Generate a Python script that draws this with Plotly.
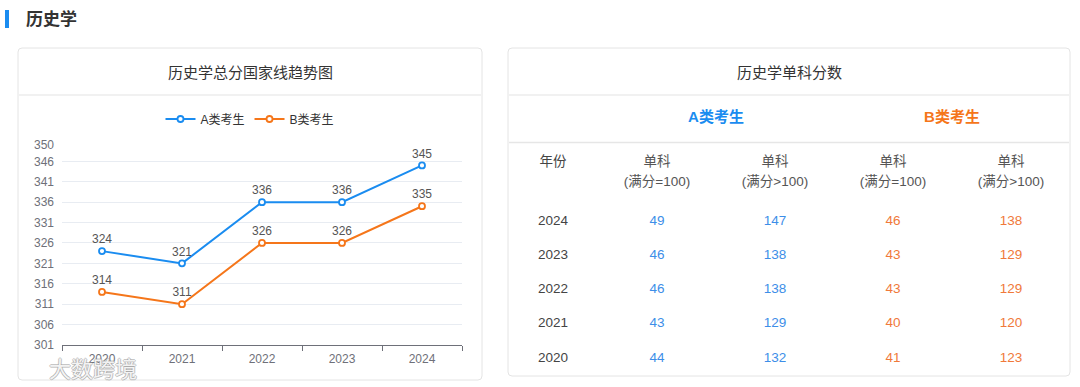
import plotly.graph_objects as go
import numpy as np

# ---------------- data ----------------
years = ["2020", "2021", "2022", "2023", "2024"]
total_a = [324, 321, 336, 336, 345]
total_b = [314, 311, 326, 326, 335]
y_ticks = [301, 306, 311, 316, 321, 326, 331, 336, 341, 346, 350]

table_years = ["2024", "2023", "2022", "2021", "2020"]
a_single_100 = [49, 46, 46, 43, 44]
a_single_over = [147, 138, 138, 129, 132]
b_single_100 = [46, 43, 43, 40, 41]
b_single_over = [138, 129, 129, 120, 123]
col_header_top = ["年份", "单科", "单科", "单科", "单科"]
col_header_bot = ["", "(满分=100)", "(满分>100)", "(满分=100)", "(满分>100)"]
group_labels = ["A类考生", "B类考生"]

page_title = "历史学"
chart_title = "历史学总分国家线趋势图"
table_title = "历史学单科分数"
watermark = "大数跨境"

# ---------------- style ----------------
W, H = 1080, 387
BLUE = "#1a8cf0"
ORANGE = "#f5761a"
T_BLUE = "#3d8ee8"
T_ORANGE = "#f0793a"
FONT = "Liberation Sans, Noto Sans CJK SC, sans-serif"


def px_x(p):
    return p / W


def px_y(p):
    return 1 - p / H


def rounded_rect(x0p, y0p, x1p, y1p, r=4):
    # pixel box (top-left origin) -> paper-space rounded path
    x0, x1 = px_x(x0p), px_x(x1p)
    yt, yb = px_y(y0p), px_y(y1p)
    rx, ry = r / W, r / H
    return (f"M {x0+rx},{yb} L {x1-rx},{yb} Q {x1},{yb} {x1},{yb+ry} "
            f"L {x1},{yt-ry} Q {x1},{yt} {x1-rx},{yt} L {x0+rx},{yt} Q {x0},{yt} {x0},{yt-ry} "
            f"L {x0},{yb+ry} Q {x0},{yb} {x0+rx},{yb} Z")


fig = go.Figure()

# line chart
for name, vals, col in [("A类考生", total_a, BLUE), ("B类考生", total_b, ORANGE)]:
    fig.add_trace(go.Scatter(
        x=years, y=vals, name=name, mode="lines+markers+text",
        text=[str(v) for v in vals], textposition="top center",
        textfont=dict(size=12, color="#555555", family=FONT),
        line=dict(color=col, width=2),
        marker=dict(symbol="circle", size=6, color="white", line=dict(color=col, width=1.8)),
        cliponaxis=False, xaxis="x", yaxis="y",
    ))

# table (text on invisible axis in pixel-like units)
col_w = [90, 118, 118, 118, 118]
col_x = list(np.cumsum(col_w) - np.array(col_w) / 2)
group_h, header_h, row_h = 47, 62, 34.3
tbl_h = 281

fig.add_trace(go.Scatter(
    x=[(col_x[1] + col_x[2]) / 2, (col_x[3] + col_x[4]) / 2],
    y=[group_h / 2, group_h / 2], mode="text", text=[f"<b>{g}</b>" for g in group_labels],
    textfont=dict(size=15, color=[BLUE, ORANGE], family=FONT),
    xaxis="x2", yaxis="y2", showlegend=False, hoverinfo="skip",
))
fig.add_trace(go.Scatter(
    x=col_x, y=[group_h + 21] * 5, mode="text", text=col_header_top,
    textfont=dict(size=13.5, color=["#444444"] + ["#555555"] * 4, family=FONT),
    xaxis="x2", yaxis="y2", showlegend=False, hoverinfo="skip",
))
fig.add_trace(go.Scatter(
    x=col_x, y=[group_h + 41] * 5, mode="text", text=col_header_bot,
    textfont=dict(size=13.5, color="#555555", family=FONT),
    xaxis="x2", yaxis="y2", showlegend=False, hoverinfo="skip",
))
row_y = [group_h + header_h + (i + 0.5) * row_h for i in range(len(table_years))]
columns = [
    (table_years, "#444444"),
    (a_single_100, T_BLUE),
    (a_single_over, T_BLUE),
    (b_single_100, T_ORANGE),
    (b_single_over, T_ORANGE),
]
for ci, (vals, colr) in enumerate(columns):
    fig.add_trace(go.Scatter(
        x=[col_x[ci]] * len(vals), y=row_y, mode="text", text=[str(v) for v in vals],
        textfont=dict(size=13.5, color=colr, family=FONT),
        xaxis="x2", yaxis="y2", showlegend=False, hoverinfo="skip",
    ))

# ---------------- shapes ----------------
shapes = [
    dict(type="path", xref="paper", yref="paper", path=rounded_rect(18, 48, 482, 380),
         line=dict(color="#e4e4e4", width=1), fillcolor="white", layer="below"),
    dict(type="path", xref="paper", yref="paper", path=rounded_rect(508, 48, 1070, 376),
         line=dict(color="#e4e4e4", width=1), fillcolor="white", layer="below"),
    dict(type="line", xref="paper", yref="paper", x0=px_x(19), x1=px_x(481), y0=px_y(95), y1=px_y(95),
         line=dict(color="#ececec", width=1.5), layer="below"),
    dict(type="line", xref="paper", yref="paper", x0=px_x(509), x1=px_x(1069), y0=px_y(95), y1=px_y(95),
         line=dict(color="#ececec", width=1.5), layer="below"),
    dict(type="line", xref="paper", yref="paper", x0=px_x(509), x1=px_x(1069), y0=px_y(142.5), y1=px_y(142.5),
         line=dict(color="#e6e6e6", width=1.5), layer="below"),
    dict(type="rect", xref="paper", yref="paper", x0=px_x(5), x1=px_x(9), y0=px_y(28), y1=px_y(10),
         line=dict(width=0), fillcolor="#1a8cf0"),
]

annotations = [
    dict(text=f"<b>{page_title}</b>", x=px_x(24), y=px_y(19), xref="paper", yref="paper",
         xanchor="left", yanchor="middle", showarrow=False, font=dict(size=17, color="#333333", family=FONT)),
    dict(text=chart_title, x=px_x(250), y=px_y(72), xref="paper", yref="paper",
         xanchor="center", yanchor="middle", showarrow=False, font=dict(size=15, color="#333333", family=FONT)),
    dict(text=table_title, x=px_x(789), y=px_y(72), xref="paper", yref="paper",
         xanchor="center", yanchor="middle", showarrow=False, font=dict(size=15, color="#333333", family=FONT)),
    dict(text=watermark, x=px_x(47), y=px_y(369), xref="paper", yref="paper",
         xanchor="left", yanchor="middle", showarrow=False,
         font=dict(size=22, color="rgba(255,255,255,0.9)", family=FONT,
                   shadow="1px 0 0 rgba(150,150,150,0.6), -1px 0 0 rgba(150,150,150,0.6), "
                          "0 1px 0 rgba(150,150,150,0.6), 0 -1px 0 rgba(150,150,150,0.6)")),
]

fig.update_layout(
    width=W, height=H, margin=dict(l=0, r=0, t=0, b=0, pad=0, autoexpand=False),
    paper_bgcolor="white", plot_bgcolor="rgba(0,0,0,0)",
    font=dict(family=FONT, color="#333333"),
    shapes=shapes, annotations=annotations,
    showlegend=True,
    legend=dict(orientation="h", x=px_x(250), y=px_y(119), xanchor="center", yanchor="middle",
                font=dict(size=12, color="#333333", family=FONT), bgcolor="rgba(0,0,0,0)",
                itemwidth=30, tracegroupgap=0),
    xaxis=dict(domain=[px_x(62), px_x(462)], type="category", tickson="boundaries", range=[-0.5, 4.5],
               ticks="outside", ticklen=5, tickcolor="#6e7079", showline=True, linecolor="#6e7079",
               linewidth=1, showgrid=False, tickfont=dict(size=12, color="#6e7079"), anchor="y",
               fixedrange=True, automargin=False, ticklabelstandoff=3),
    yaxis=dict(domain=[1 - 345 / H, 1 - 145 / H], range=[301, 350], tickvals=y_ticks,
               showgrid=True, gridcolor="#e8ecf2", gridwidth=1, zeroline=False, showline=False,
               tickfont=dict(size=12, color="#6e7079"), ticks="", anchor="x", fixedrange=True,
               automargin=False, ticklabelstandoff=7),
    xaxis2=dict(domain=[px_x(508), px_x(1070)], range=[0, sum(col_w)], visible=False, anchor="y2",
                fixedrange=True, automargin=False),
    yaxis2=dict(domain=[px_y(95 + tbl_h), px_y(95)], range=[tbl_h, 0], visible=False, anchor="x2",
                fixedrange=True, automargin=False),
)

fig.write_html(
    "out.html",
    config={"displayModeBar": False},
    post_script="document.body.style.margin='0';document.body.style.overflow='hidden';",
)
